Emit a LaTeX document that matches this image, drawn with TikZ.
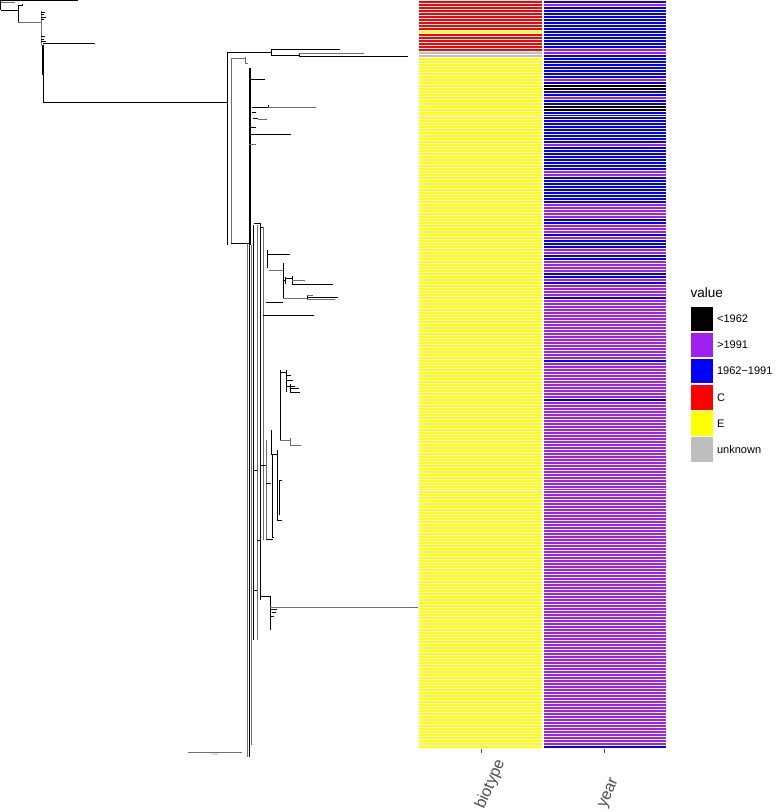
\documentclass[tikz,border=0pt]{standalone}
\usepackage{fontspec}
\setmainfont{Liberation Sans}
\definecolor{hred}{RGB}{255,0,0}
\definecolor{hyel}{RGB}{255,255,0}
\definecolor{hgray}{RGB}{190,190,190}
\definecolor{hblue}{RGB}{0,0,255}
\definecolor{hpur}{RGB}{160,32,240}
\definecolor{axgray}{RGB}{77,77,77}
\definecolor{tgray}{RGB}{110,110,110}
\tikzset{
  br/.style={line width=0.8pt, black},
  brg/.style={line width=0.8pt, tgray},
  keybox/.style={minimum width=22.5pt, minimum height=24.5pt, inner sep=0pt, anchor=north west},
  keylab/.style={anchor=west, font=\fontsize{11}{13}\selectfont, inner sep=0pt},
  axlab/.style={rotate=66, anchor=west, inner sep=0pt, font=\fontsize{16}{18}\selectfont, text=axgray},
}
\begin{document}
\begin{tikzpicture}[x=1pt,y=-1pt]
\useasboundingbox (0,0) rectangle (778,812);
% ---------------- heatmap ----------------
\pgfmathsetseed{11}
\foreach \i in {0,...,249}{
  \pgfmathsetmacro{\ya}{\i*2.992}
  \pgfmathsetmacro{\yb}{\ya+2.992}
  \pgfmathtruncatemacro{\bt}{(\ya<50)?((\i==10)?1:0):((\ya<56)?2:1)}
  \ifcase\bt\relax \def\bc{hred}\or \def\bc{hyel}\or \def\bc{hgray}\fi
  \fill[\bc] (418.5,\ya) rectangle (541.5,\yb);
  \pgfmathsetmacro{\r}{rnd}
  \pgfmathsetmacro{\pk}{(\ya<40)?0.04:((\ya<110)?0.14:((\ya<200)?0.03:0))}
  \pgfmathsetmacro{\pb}{(\ya<40)?0.7:((\ya<110)?0.6:((\ya<200)?0.72:((\ya<250)?0.4:((\ya<300)?0.25:((\ya<744)?0.01:1.5)))))}
  \pgfmathtruncatemacro{\yc}{(\r<\pk)?0:((\r<\pk+\pb)?1:2)}
  \ifcase\yc\relax \def\ycol{black}\or \def\ycol{hblue}\or \def\ycol{hpur}\fi
  \fill[\ycol] (543.5,\ya) rectangle (666,\yb);
  \draw[white,line width=0.4pt] (418.5,\ya) -- (666,\ya);
}
% ticks and axis labels
\coordinate (tb) at (481,749);
\coordinate (ty) at (604,749);
\draw[axgray, line width=0.8pt] (tb) -- ++(0,4);
\draw[axgray, line width=0.8pt] (ty) -- ++(0,4);
\node[axlab] (lb) at (480,808) {biotype};
\node[axlab] (ly) at (603,808) {year};
% ---------------- legend ----------------
\node[anchor=west, inner sep=0pt, font=\fontsize{13.5}{15}\selectfont] (vt) at (690.5,293) {value};
\foreach \c/\t [count=\k from 0] in {black/{<1962}, hpur/{>1991}, hblue/{1962\textminus1991}, hred/C, hyel/E, hgray/unknown}{
  \node[keybox, fill=\c] (k\k) at (690.5,306.5+26.1*\k) {};
  \node[keylab] (kl\k) at ([xshift=3.5pt]k\k.east) {\t};
}
% ---------------- scale bar ----------------
\coordinate (s1) at (188,752);
\coordinate (s2) at (242,752);
\draw[tgray, line width=0.8pt] (s1) -- (s2);
\node[font=\fontsize{2.5}{3}\selectfont, text=tgray, inner sep=0pt, anchor=north] (sl) at (215,754) {0.005};
% ---------------- tree ----------------
% root area
\draw[br] (0,0.5) -- (78,0.5);
\draw[br] (0.8,0) -- (0.8,10);
\draw[brg] (0.8,2.7) -- (15,2.7);
\draw[br] (0.8,10) -- (18,10);
\draw[br] (18,5) -- (18,22) (18,5) -- (22,5) (22,4) -- (22,6);
\draw[brg] (18,22) -- (41,22);
\draw[brg] (41,11) -- (41,45);
\draw[br] (41,12) -- (45,12) (41,14) -- (44,14) (41,17) -- (46,17) (41,19) -- (44,19)
          (41,36) -- (45,36) (41,39) -- (44,39) (41,41) -- (46,41);
\draw[br] (43,43) -- (95,43);
\draw[br, line width=1.8pt] (43,45) -- (43,75);
\draw[br] (43,45) -- (43,102);
\draw[br] (43,102) -- (227,102);
% upper long branches
\draw[br] (227,52) -- (227,245);
\draw[br] (227,52) -- (271,52);
\draw[br] (271,49.5) -- (271,55.5);
\draw[br] (271,49.5) -- (340,49.5);
\draw[br] (271,55.5) -- (299,55.5);
\draw[br] (299,53) -- (299,56);
\draw[brg] (299,53) -- (364,53);
\draw[br] (299,56) -- (408,56);
\draw[brg] (231,58) -- (231,243);
\draw[brg] (231,58) -- (245,58) (245,57) -- (245,63) (245,63) -- (248,63);
\draw[br] (231,243) -- (249,243);
% dense clade
\draw[br, line width=2pt] (249.5,68) -- (249.5,245);
\draw[br] (249,79) -- (265,79);
\draw[br] (252,107) -- (268,107) (268,105) -- (268,108);
\draw[brg] (268,107.5) -- (316,107.5);
\draw[br] (252,112) -- (256,112);
\draw[br] (253,118) -- (258,118);
\draw[brg] (258,119) -- (267,119);
\draw[br] (249,127) -- (256,127);
\draw[br] (249,134) -- (291,134);
\draw[brg] (249,144) -- (256,144);
% long verticals
\draw[brg, line width=1pt] (247,243) -- (247,757);
\draw[br, line width=1pt] (249.5,245) -- (249.5,757);
\draw[brg] (251.5,245) -- (251.5,745);
\draw[br] (253.5,225) -- (253.5,640);
\draw[brg] (257,225) -- (257,640);
\draw[br] (253.5,223) -- (260,223);
\draw[br] (260,223) -- (260,600);
\draw[br] (260,227) -- (263,227);
\draw[brg] (263,227) -- (263,540);
\draw[br] (253.5,470) -- (257,470) (257,540) -- (260,540) (253.5,590) -- (257,590) (260,465) -- (266,465);
% upper cluster
\draw[br] (267,250) -- (267,268);
\draw[br] (267,254) -- (290,254);
\draw[brg] (269,270) -- (283,270);
\draw[br] (283,263) -- (283,298);
\draw[br] (283,280) -- (286,280) (285.5,277) -- (285.5,284);
\draw[br] (285.5,278) -- (292,278) (292,276) -- (292,284.5);
\draw[brg] (292,280.7) -- (305,280.7);
\draw[br] (292,284.3) -- (305,284.3);
\draw[br] (305,284.3) -- (333,284.3);
\draw[brg] (283,298) -- (307,298);
\draw[br] (307,295) -- (307,300);
\draw[brg] (307,295) -- (313,295);
\draw[br] (307,297.3) -- (338,297.3);
\draw[brg] (307,299.5) -- (335,299.5);
\draw[br] (266,302) -- (283,302);
\draw[br] (263,315) -- (314,315);
% middle cluster
\draw[br] (280,370) -- (280,440);
\draw[br] (280,372) -- (286,372) (286,370) -- (286,392);
\draw[br] (286,375) -- (291,375) (286,380) -- (293,380) (286,386) -- (295,386);
\draw[br] (290,384) -- (290,392) (290,388) -- (299,388) (290,392) -- (300,392);
\draw[brg] (280,440) -- (290,440) (290,438) -- (290,445) (290,445) -- (301,445);
% lower structures
\draw[brg] (266,440) -- (266,540);
\draw[br] (271,430) -- (271,455) (271,454) -- (277,454);
\draw[br] (277,450) -- (277,520) (277,520) -- (282,520);
\draw[br] (279,480) -- (279,515) (279,480) -- (282,480);
\draw[br] (272,455) -- (272,537) (272,537) -- (274,537);
\draw[br] (266,483) -- (271,483);
\draw[br] (266,539) -- (273,539);
\draw[br] (260,596) -- (270,596);
\draw[br] (270,596) -- (270,630);
\draw[brg] (270,607) -- (418,607);
\draw[br] (270,609) -- (277,609) (272,612) -- (276,612) (270,616) -- (274,616);
\end{tikzpicture}
\end{document}
